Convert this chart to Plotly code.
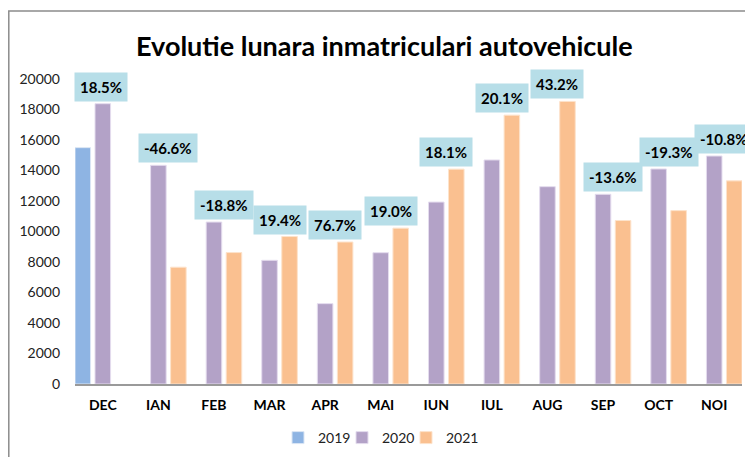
import plotly.graph_objects as go

months = ["DEC", "IAN", "FEB", "MAR", "APR", "MAI", "IUN", "IUL", "AUG", "SEP", "OCT", "NOI"]
v2019 = [15500]
v2019_months = ["DEC"]
v2020 = [18380, 14340, 10620, 8110, 5270, 8610, 11930, 14690, 12940, 12440, 14100, 14950]
v2021_months = ["IAN", "FEB", "MAR", "APR", "MAI", "IUN", "IUL", "AUG", "SEP", "OCT", "NOI"]
v2021 = [7660, 8620, 9670, 9310, 10220, 14090, 17630, 18530, 10720, 11370, 13320]
pct_labels = ["18.5%", "-46.6%", "-18.8%", "19.4%", "76.7%", "19.0%", "18.1%", "20.1%", "43.2%", "-13.6%", "-19.3%", "-10.8%"]
yticks = [0, 2000, 4000, 6000, 8000, 10000, 12000, 14000, 16000, 18000, 20000]

C19, C20, C21 = "#8EB4E3", "#B3A2C7", "#FAC090"
FONT = "Lato"
BW = 0.28

# screen geometry (page has an 8px body margin)
PX0, PX1, PY0, PY1 = 75, 742, 79, 384


def px(x):
    return (x - PX0) / (PX1 - PX0)


def py(y):
    return (PY1 - y) / (PY1 - PY0)


fig = go.Figure()
fig.add_trace(go.Bar(x=v2019_months, y=v2019, name="2019", marker=dict(color=C19, line=dict(color="#dbe6f4", width=1)),
                     width=BW, offset=-0.5, legend="legend"))
fig.add_trace(go.Bar(x=months, y=v2020, name="2020", marker=dict(color=C20, line=dict(color="#e4dcee", width=1)),
                     width=BW, offset=-0.14, legend="legend2"))
fig.add_trace(go.Bar(x=v2021_months, y=v2021, name="2021", marker=dict(color=C21, line=dict(color="#fde3cc", width=1)),
                     width=BW, offset=0.22, legend="legend3"))

d21 = dict(zip(v2021_months, v2021))
for i, m in enumerate(months):
    top = max(v2020[i], d21.get(m, 0))
    fig.add_annotation(x=m, y=top, text="<b>" + pct_labels[i] + "</b>", showarrow=False,
                       xref="x", yref="y", yanchor="bottom", yshift=2,
                       xshift=(-2 if m == "DEC" else 10),
                       bgcolor="#B7DEE8", borderpad=5,
                       font=dict(family=FONT, size=15, color="#000000"))

fig.add_annotation(text="<b>Evolutie lunara inmatriculari autovehicule</b>", xref="paper", yref="paper",
                   x=px(384.5), y=py(45), xanchor="center", yanchor="middle",
                   showarrow=False, font=dict(family=FONT, size=27, color="#000000"))

fig.add_shape(type="rect", xref="paper", yref="paper", x0=px(8.8), x1=1.2,
              y0=-0.5, y1=py(11), line=dict(color="#8c8c8c", width=1.5), fillcolor="rgba(0,0,0,0)")

leg_common = dict(orientation="h", yanchor="middle", xanchor="left", y=py(438),
                  font=dict(family=FONT, size=14, color="#222222"), itemwidth=30,
                  bgcolor="rgba(0,0,0,0)")

fig.update_layout(
    width=745, height=449,
    margin=dict(l=PX0 - 8, r=753 - PX1, t=PY0 - 8, b=457 - PY1, autoexpand=False),
    paper_bgcolor="white", plot_bgcolor="white",
    barmode="overlay",
    showlegend=True,
    legend=dict(x=px(298 - 20), **leg_common),
    legend2=dict(x=px(362 - 20), **leg_common),
    legend3=dict(x=px(426 - 20), **leg_common),
    font=dict(family=FONT),
)
fig.update_xaxes(type="category", categoryorder="array", categoryarray=months,
                 range=[-0.5, 11.5], showline=True, linecolor="#9a9a9a", linewidth=1.5,
                 showgrid=False, ticks="", tickfont=dict(family=FONT, size=14, color="#000000", weight="bold"),
                 ticklabelstandoff=7)
fig.update_yaxes(range=[0, 20000], tickvals=yticks, ticktext=[str(t) for t in yticks],
                 showgrid=False, showline=False, zeroline=False, ticks="",
                 tickfont=dict(family=FONT, size=14, color="#222222"), ticklabelstandoff=14)

fig.write_html("out.html")
